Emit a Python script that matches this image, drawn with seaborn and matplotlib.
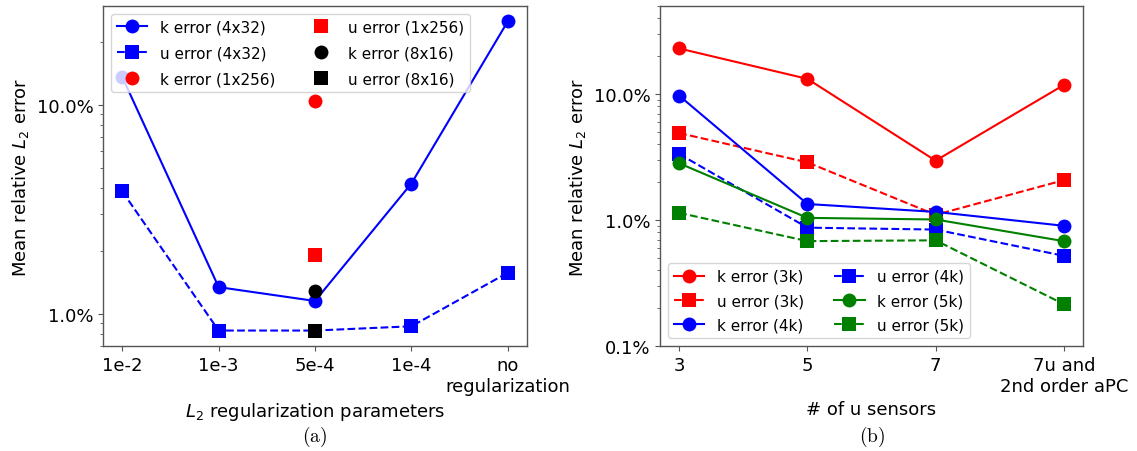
import numpy as np
import pandas as pd
import matplotlib
matplotlib.use("Agg")
import matplotlib.pyplot as plt
from matplotlib.ticker import FuncFormatter, NullFormatter
import seaborn as sns

# ---------------- data ----------------
reg_labels = ["1e-2", "1e-3", "5e-4", "1e-4", "no\nregularization"]
k_4x32 = [13.6, 1.34, 1.15, 4.2, 25.1]
u_4x32 = [3.85, 0.83, 0.83, 0.87, 1.57]
single_cat = "5e-4"
k_1x256 = [10.4]
u_1x256 = [1.92]
k_8x16 = [1.28]
u_8x16 = [0.83]

sensor_labels = ["3", "5", "7", "7u and\n2nd order aPC"]
k_3k = [23.0, 13.2, 2.96, 11.8]
u_3k = [4.9, 2.87, 1.1, 2.07]
k_4k = [9.7, 1.34, 1.16, 0.90]
u_4k = [3.34, 0.87, 0.84, 0.52]
k_5k = [2.82, 1.04, 1.01, 0.68]
u_5k = [1.14, 0.68, 0.69, 0.215]

# ---------------- figure ----------------
W, H = 1137, 452
fig = plt.figure(figsize=(W / 100, H / 100), dpi=100)
axL = fig.add_axes([103 / W, 105 / H, 424 / W, 340 / H])
axR = fig.add_axes([660 / W, 105 / H, 423 / W, 340 / H])

FS = 13
LFS = 11
MS = 10


def line(ax, xs, ys, color, marker, ls, label):
    df = pd.DataFrame({"x": xs, "y": ys})
    sns.lineplot(data=df, x="x", y="y", ax=ax, color=color, marker=marker,
                 markersize=MS, markeredgecolor=color, markeredgewidth=0,
                 linestyle=ls, linewidth=1.5, label=label, errorbar=None,
                 sort=False)


# left panel
xL = np.arange(len(reg_labels))
xs_single = [reg_labels.index(single_cat)]
line(axL, xL, k_4x32, "blue", "o", "-", "k error (4x32)")
line(axL, xL, u_4x32, "blue", "s", "--", "u error (4x32)")
line(axL, xs_single, k_1x256, "red", "o", "none", "k error (1x256)")
line(axL, xs_single, u_1x256, "red", "s", "none", "u error (1x256)")
line(axL, xs_single, k_8x16, "black", "o", "none", "k error (8x16)")
line(axL, xs_single, u_8x16, "black", "s", "none", "u error (8x16)")

# right panel
xR = np.arange(len(sensor_labels))
line(axR, xR, k_3k, "red", "o", "-", "k error (3k)")
line(axR, xR, u_3k, "red", "s", "--", "u error (3k)")
line(axR, xR, k_4k, "blue", "o", "-", "k error (4k)")
line(axR, xR, u_4k, "blue", "s", "--", "u error (4k)")
line(axR, xR, k_5k, "green", "o", "-", "k error (5k)")
line(axR, xR, u_5k, "green", "s", "--", "u error (5k)")

pct = FuncFormatter(lambda v, p: f"{v:.1f}%")
for ax, labels, xlabel in [(axL, reg_labels, r"$L_2$ regularization parameters"),
                           (axR, sensor_labels, "# of u sensors")]:
    ax.set_yscale("log")
    ax.yaxis.set_major_formatter(pct)
    ax.yaxis.set_minor_formatter(NullFormatter())
    ax.set_xticks(np.arange(len(labels)))
    ax.set_xticklabels(labels, fontsize=FS)
    ax.tick_params(axis="y", labelsize=FS)
    ax.tick_params(which="both", color="#555555")
    ax.set_xlabel(xlabel, fontsize=FS)
    ax.set_ylabel(r"Mean relative $L_2$ error", fontsize=FS)
    for s in ax.spines.values():
        s.set_color("#555555")
        s.set_linewidth(1.0)

axL.set_xlim(-0.2, len(reg_labels) - 1 + 0.2)
axR.set_xlim(-0.15, len(sensor_labels) - 1 + 0.15)
axR.set_ylim(0.1, 50)

axL.legend(ncol=2, loc="upper left", fontsize=LFS, numpoints=1, labelspacing=0.7)
axR.legend(ncol=2, loc="lower left", fontsize=LFS, numpoints=1, labelspacing=0.6)

fig.text((103 + 212) / W, 1 - 437 / H, r"$\mathrm{(a)}$", ha="center", va="center",
         fontsize=14, math_fontfamily="cm")
fig.text((660 + 212) / W, 1 - 437 / H, r"$\mathrm{(b)}$", ha="center", va="center",
         fontsize=14, math_fontfamily="cm")

fig.savefig("out.png", dpi=100)
